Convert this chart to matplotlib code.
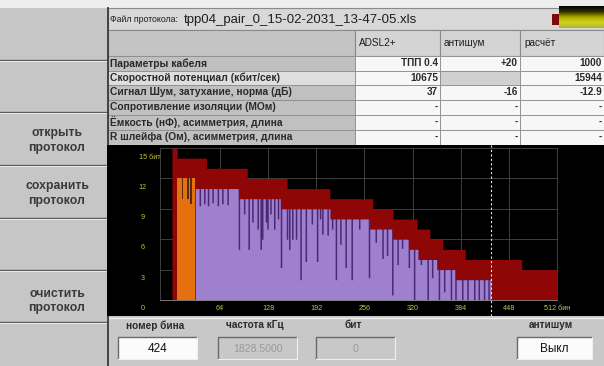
import numpy as np
import matplotlib
matplotlib.use("Agg")
import matplotlib.pyplot as plt
from matplotlib.patches import Rectangle
from matplotlib.colors import LinearSegmentedColormap

plt.rcParams['font.family'] = ['Liberation Sans', 'DejaVu Sans']

# ---------------- data ----------------
file_label = "Файл протокола:"
file_name = "tpp04_pair_0_15-02-2031_13-47-05.xls"
columns = ["ADSL2+", "антишум", "расчёт"]
row_labels = ["Параметры кабеля",
              "Скоростной потенциал (кбит/сек)",
              "Сигнал Шум, затухание, норма (дБ)",
              "Сопротивление изоляции (МОм)",
              "Ёмкость (нФ), асимметрия, длина",
              "R шлейфа (Ом), асимметрия, длина"]
adsl_vals = ["ТПП 0.4", "10675", "37", "-", "-", "-"]
noise_vals = ["+20", "", "-16", "-", "-", "-"]
calc_vals = ["1000", "15944", "-12.9", "-", "-", "-"]
buttons = ["", "", "открыть\nпротокол", "сохранить\nпротокол", "", "очистить\nпротокол"]

# maximum (calculated) bits per bin - staircase
max_edges = [0, 7, 46, 100, 153, 210, 267, 294, 326, 343, 360, 390, 465, 512]
max_bits = [15, 14, 13, 12, 11, 10, 9, 8, 7, 6, 5, 4, 3]
# upstream bins
up_edges = [7, 31]
up_bits = [12]
up_notch_bins = [13, 20, 24]
up_notch_bits = [10, 10, 9.5]
# downstream bins - envelope
down_edges = [31, 88, 144, 210, 263, 293, 314, 327, 352, 376, 424]
down_bits = [11, 10, 9, 8, 7, 6, 5, 4, 3, 2]
notch_bins = [36, 42, 47, 53, 60, 66, 73, 88, 95, 101, 106, 113, 117, 119, 124, 126,
              130, 135, 140, 144, 152, 155, 159, 164, 170, 177, 185, 192, 196, 199,
              206, 212, 217, 223, 230, 238, 248, 261, 270, 279, 285, 292, 299, 305,
              314, 321, 330, 339, 345, 354, 361, 370, 376, 385, 392, 401, 407, 414, 420]
notch_bits = [9.3, 9.5, 9.3, 9.6, 9.3, 9.5, 9.4, 5.0, 8.5, 5.0, 7.7, 7.0, 5.0, 6.0, 7.7, 7.0,
              8.5, 7.0, 8.0, 3.2, 6.0, 5.0, 6.0, 6.0, 2.0, 3.8, 7.5, 3.8, 8.0, 6.5,
              6.4, 7.0, 2.0, 5.5, 3.2, 2.0, 7.0, 2.2, 5.7, 4.1, 4.4, 0.5, 3.5, 5.1,
              3.2, 0.0, 3.5, 0.0, 2.2, 0.0, 0.8, 0.0, 0.0, 0.0, 0.0, 0.0, 0.0, 0.0, 0.0]
x_ticks = [64, 128, 192, 256, 320, 384, 448, 512]
x_tick_labels = ["64", "128", "192", "256", "320", "384", "448", "512 бин"]
y_ticks = [0, 3, 6, 9, 12, 15]
y_tick_labels = ["0", "3", "6", "9", "12", "15 бит"]
cursor_bin = 424
field_labels = ["номер бина", "частота кГц", "бит", "антишум"]
field_values = ["424", "1828.5000", "0", "Выкл"]
field_enabled = [True, False, False, True]

# ---------------- figure ----------------
W, H = 604, 366
fig = plt.figure(figsize=(W / 100, H / 100), dpi=100)
fig.patch.set_facecolor('#c8c8c8')
ui = fig.add_axes([0, 0, 1, 1])
ui.set_xlim(0, W)
ui.set_ylim(H, 0)
ui.axis('off')

TXT = '#1e1e1e'

def rect(x0, y0, x1, y1, fc, ec='none', lw=0.8, z=1):
    ui.add_patch(Rectangle((x0, y0), x1 - x0, y1 - y0, facecolor=fc,
                           edgecolor=ec, linewidth=lw, zorder=z))

# top strip
rect(0, 0, W, 8, '#eeeeee')
# left panel
rect(0, 8, 107, H, '#c6c6c6')
sep_y = [60, 112, 165, 218, 270, 322]
btn_bounds = [8] + sep_y + [H]
for y in sep_y:
    ui.plot([0, 107], [y, y], color='#5c5c5c', lw=1.0, zorder=3)
    ui.plot([0, 107], [y + 1.3, y + 1.3], color='#ececec', lw=0.7, zorder=3)
for i, lab in enumerate(buttons):
    if lab:
        yc = (btn_bounds[i] + btn_bounds[i + 1]) / 2 + (5 if i == 5 else 2)
        ui.text(57, yc, lab, ha='center', va='center', fontsize=8.8,
                fontweight='bold', color='#3a3a3a', linespacing=1.3, zorder=4)
ui.plot([107.5, 107.5], [8, H], color='#3a3a3a', lw=1.3, zorder=5)

# header row
rect(108, 8, W, 30, '#d8d8d8', '#8a8a8a')
ui.text(110, 19.5, file_label, ha='left', va='center', fontsize=6.3, color=TXT, zorder=4)
ui.text(184, 19.5, file_name, ha='left', va='center', fontsize=9.5, color=TXT, zorder=4)
# level indicator (decorative)
rect(552, 14, 559, 25, '#7a0c0c', z=3)
grad = np.linspace(0, 1, 30)[:, None]
cm = LinearSegmentedColormap.from_list('lvl', ['#050505', '#303000', '#a8a800', '#d4d41a', '#b0b040'])
ui.imshow(np.repeat(grad, 10, axis=1), cmap=cm, extent=(559, W, 28, 6),
          aspect='auto', zorder=3, interpolation='bilinear')

# column header row
col_x = [355, 440, 520, W]
rect(108, 30, 355, 56, '#c4c4c4', '#8a8a8a')
for j, c in enumerate(columns):
    rect(col_x[j], 30, col_x[j + 1], 56, '#d4d4d4', '#8a8a8a')
    ui.text(col_x[j] + 4, 43, c, ha='left', va='center', fontsize=7.2, color=TXT, zorder=4)

# table rows
row_y = [56, 70.5, 85, 99.5, 114.5, 129.5, 145]
for i, lab in enumerate(row_labels):
    y0, y1 = row_y[i], row_y[i + 1]
    rect(108, y0, 355, y1, '#dedede' if i == 1 else '#c0c0c0', '#8c8c8c', 0.6)
    ui.text(110, (y0 + y1) / 2, lab, ha='left', va='center', fontsize=7.4,
            fontweight='bold', color='#2a2a2a', zorder=4)
    for j, vals in enumerate([adsl_vals, noise_vals, calc_vals]):
        fc = '#d0d0d0' if (i == 1 and j == 1) else '#f7f7f7'
        rect(col_x[j], y0, col_x[j + 1], y1, fc, '#8c8c8c', 0.6)
        ui.text(col_x[j + 1] - 2, (y0 + y1) / 2, vals[i], ha='right', va='center',
                fontsize=7.2, fontweight='bold', color='#2a2a2a', zorder=4, clip_on=True)

# bottom panel
rect(108, 316, W, H, '#c8c8c8')
ui.plot([108, W], [317.5, 317.5], color='#f0f0f0', lw=1.0, zorder=3)
field_cx = [157, 257, 355, 553]
for k in range(4):
    cx = field_cx[k]
    ui.text(cx - 2, 325.5, field_labels[k], ha='center', va='center', fontsize=7.2,
            fontweight='bold', color='#2a2a2a', zorder=4)
    x0, x1 = cx - 39, cx + 40
    if k == 3:
        x0, x1 = 517, 592
    fc = '#fbfbfb' if field_enabled[k] else '#c8c8c8'
    rect(x0, 337, x1, 359, fc, z=3)
    ui.plot([x0, x0, x1], [359, 337, 337], color='#6a6a6a', lw=1.0, zorder=4)
    ui.plot([x0, x1, x1], [359, 359, 337], color='#efefef', lw=0.8, zorder=4)
    ui.text((x0 + x1) / 2, 348.5, field_values[k], ha='center', va='center',
            fontsize=8.5 if field_enabled[k] else 7.6,
            color='#111111' if field_enabled[k] else '#9a9a9a', zorder=5)

# ---------------- chart ----------------
ax = fig.add_axes([107 / W, (H - 316) / H, (W - 107) / W, (316 - 145) / H])
ax.set_facecolor('black')
for s in ax.spines.values():
    s.set_visible(False)
ax.set_xticks([])
ax.set_yticks([])
ax.set_xlim(-86.4, 574.5)
ax.set_ylim(-1.58, 15.3)

def staircase(edges, levels):
    x = np.arange(edges[0], edges[-1] + 1)
    v = np.repeat(np.asarray(levels, float), np.diff(edges))
    return x, np.append(v, v[-1])

GRID = '#4a4a4a'
gx0 = -16
for xv in [gx0] + x_ticks:
    ax.plot([xv, xv], [0, 15], color=GRID, lw=0.6, zorder=0)
for yv in y_ticks[1:]:
    ax.plot([gx0, x_ticks[-1]], [yv, yv], color=GRID, lw=0.6, zorder=0)

xm, vm = staircase(max_edges, max_bits)
ax.fill_between(xm, 0, vm, step='post', color='#8e0606', lw=0, zorder=1)

xu, vu = staircase(up_edges, up_bits)
ax.fill_between(xu, 0, vu, step='post', color='#5a2a10', lw=0, zorder=2)
vu_act = vu.copy()
for b, d in zip(up_notch_bins, up_notch_bits):
    vu_act[b - up_edges[0]: b - up_edges[0] + 2] = d
ax.fill_between(xu, 0, vu_act, step='post', color='#e4700e', lw=0, zorder=3)

xd, vd = staircase(down_edges, down_bits)
ax.fill_between(xd, 0, vd, step='post', color='#4a2872', lw=0, zorder=2)
vd_act = vd.copy()
for b, d in zip(notch_bins, notch_bits):
    i0 = b - down_edges[0]
    vd_act[i0:i0 + 2] = d
ax.fill_between(xd, 0, vd_act, step='post', color='#9e80cf', lw=0, zorder=3)

ax.plot([gx0, x_ticks[-1]], [0, 0], color='#8a8a8a', lw=0.6, zorder=4)

TICK = '#c4c43c'
for xv, lab in zip(x_ticks, x_tick_labels):
    ax.text(xv, -0.85, lab, ha='center', va='center', fontsize=5.2, color=TICK)
for yv, lab in zip(y_ticks, y_tick_labels):
    if lab.endswith('бит'):
        ax.text(-44, yv - 0.95, lab, ha='left', va='center', fontsize=5.2, color=TICK)
    else:
        ax.text(-38.6, yv - 0.85, lab, ha='center', va='center', fontsize=5.2, color=TICK)

ax.axvline(cursor_bin, color='#e6e6e6', lw=0.8, ls=(0, (2, 2)), zorder=5)

fig.savefig('out.png', dpi=100, facecolor=fig.get_facecolor())
